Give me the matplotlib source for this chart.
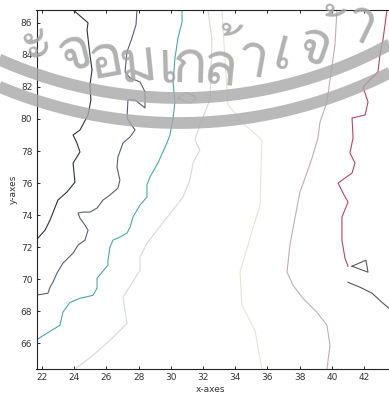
import numpy as np
import matplotlib
matplotlib.use("Agg")
import matplotlib.pyplot as plt
from matplotlib import font_manager
from matplotlib.ft2font import FT2Font

# contour lines traced level by level (x, y in axis units)
level1_x = [23.93, 24.86, 24.80, 24.98, 25.11, 24.98, 25.04, 24.86, 24.36, 23.93, 24.17, 24.36,
            23.93, 24.05, 23.55, 22.99, 22.50, 22.19, 21.60]
level1_y = [86.81, 86.00, 85.56, 84.00, 83.06, 82.13, 81.19, 80.25, 79.31, 79.00, 78.50, 77.94,
            77.25, 76.06, 75.44, 74.94, 73.69, 73.06, 72.40]

level2_x = [27.90, 27.84, 27.59, 27.28, 27.16, 27.47, 28.09, 28.40, 28.40, 27.78, 27.34, 27.28,
            27.78, 27.47, 27.03, 26.72, 26.66, 26.84, 26.72, 26.22, 25.79, 25.42, 24.98, 24.55,
            24.24, 24.36, 24.67, 24.86, 24.67, 24.24, 23.93, 23.30, 22.93, 22.68, 22.50, 22.37, 21.60]
level2_y = [86.81, 85.88, 85.06, 84.19, 82.94, 82.56, 82.31, 81.69, 80.69, 81.19, 81.19, 80.06,
            79.31, 78.88, 78.50, 77.63, 77.00, 76.19, 75.69, 75.25, 74.94, 74.44, 74.19, 74.19,
            74.13, 73.81, 73.38, 73.06, 72.44, 72.13, 71.63, 71.00, 70.38, 69.81, 69.50, 69.13, 69.00]

level3_x = [30.70, 30.70, 30.45, 30.26, 30.14, 30.26, 30.14, 29.95, 29.76, 29.20, 28.71, 28.52,
            28.52, 28.09, 27.65, 27.47, 27.28, 26.84, 26.41, 26.22, 26.10, 26.10, 25.73, 25.42,
            25.42, 25.17, 24.36, 23.74, 23.30, 23.12, 22.31, 21.60]
level3_y = [86.81, 86.06, 85.06, 83.81, 82.31, 81.06, 80.06, 79.00, 78.50, 77.25, 76.38, 75.88,
            75.13, 74.63, 73.88, 73.25, 72.88, 72.63, 72.44, 72.00, 71.19, 70.88, 70.44, 70.06,
            69.44, 69.00, 68.81, 68.56, 67.94, 67.13, 66.63, 66.19]

level4_x = [32.31, 32.56, 32.43, 31.81, 31.50, 31.81, 31.38, 31.19, 30.76, 29.64, 28.52, 28.09,
            28.09, 27.03, 27.28, 26.22, 25.17, 24.05]
level4_y = [86.81, 84.94, 81.19, 79.63, 78.69, 78.06, 77.25, 76.19, 75.13, 73.69, 72.25, 71.38,
            70.56, 68.88, 67.25, 66.19, 65.25, 64.40]
loop4_x = [30.45, 30.95, 31.44, 31.57, 31.25, 30.82, 30.45]
loop4_y = [81.31, 81.63, 81.44, 81.25, 81.00, 81.13, 81.31]

level5_x = [33.18, 33.37, 33.55, 34.61, 35.66, 35.54, 34.92, 34.30, 34.42, 35.23, 35.66]
level5_y = [86.81, 83.69, 80.88, 79.63, 78.69, 74.63, 72.56, 70.44, 68.38, 66.81, 64.40]

level6_x = [40.32, 40.20, 39.89, 39.70, 39.27, 39.14, 38.77, 38.34, 38.02, 37.71, 37.40, 37.22,
            37.59, 38.21, 39.08, 39.70, 39.89, 39.70]
level6_y = [86.81, 84.63, 82.44, 81.06, 79.81, 78.81, 77.56, 76.31, 75.44, 73.81, 72.13, 70.44,
            69.63, 68.81, 67.94, 67.13, 65.88, 64.40]

level7_x = [43.43, 43.18, 42.99, 42.87, 41.94, 42.25, 42.07, 41.26, 41.32, 41.13, 41.44, 41.26,
            40.39, 40.70, 41.01, 40.63, 40.63, 40.82, 41.01]
level7_y = [86.81, 84.94, 84.00, 82.94, 82.00, 81.06, 80.25, 80.06, 78.81, 77.88, 77.25, 76.63,
            76.00, 75.38, 74.81, 73.88, 72.44, 71.31, 70.81]

level8_x = [41.01, 41.76, 42.50, 43.12, 43.55, 44.60]
level8_y = [69.81, 69.50, 69.13, 68.56, 68.19, 67.60]
loop8_x = [41.26, 42.12, 42.25, 41.26]
loop8_y = [70.81, 71.19, 70.44, 70.81]

contours = [
    (level1_x, level1_y, "#2c323c"),
    (level2_x, level2_y, "#566070"),
    (level3_x, level3_y, "#48aaa4"),
    (level4_x, level4_y, "#d2dcd2"),
    (loop4_x, loop4_y, "#b8c4b8"),
    (level5_x, level5_y, "#e6e6d0"),
    (level6_x, level6_y, "#c4acb4"),
    (level7_x, level7_y, "#b84462"),
    (level8_x, level8_y, "#5c5454"),
    (loop8_x, loop8_y, "#605858"),
]

x_ticks = [22, 24, 26, 28, 30, 32, 34, 36, 38, 40, 42]
y_ticks = [66, 68, 70, 72, 74, 76, 78, 80, 82, 84, 86]

# library stamp across the top of the page
stamp_text = ["ะ", "จ", "อ", "ม", "เ", "ก", "ล้", "า", "เ", "จ้", "า"]
stamp_px = [36, 75, 106, 138, 168, 190, 220, 252, 283, 315, 358]

W, H = 389, 398
fig = plt.figure(figsize=(W / 100, H / 100), dpi=100)
fig.patch.set_facecolor("white")

ax = fig.add_axes([36.5 / W, 1 - 369 / H, 369.5 / W, 359 / H])
for xs, ys, c in contours:
    ax.plot(xs, ys, color=c, lw=0.8)

ax.set_xlim(21.66, 44.61)
ax.set_ylim(64.4, 86.8)
ax.set_xticks(x_ticks)
ax.set_yticks(y_ticks)
ax.tick_params(direction="in", length=2.5, width=0.6, top=True, right=True,
               labelsize=6.5, labelcolor="#333333", pad=3)
for side in ["top", "bottom", "left", "right"]:
    ax.spines[side].set_linewidth(0.8)
    ax.spines[side].set_color("#222222")
ax.set_xlabel("x-axes", fontsize=6.5, color="#333333")
ax.set_ylabel("y-axes", fontsize=6.5, color="#333333")
ax.xaxis.set_label_coords(0.47, -0.045)
ax.yaxis.set_label_coords(-0.05, 0.5)


def thai_family():
    for f in font_manager.fontManager.ttflist:
        try:
            if 0x0E08 in FT2Font(f.fname).get_charmap():
                return f.name
        except Exception:
            pass
    return None


# overlay in pixel units for the stamp arcs
ov = fig.add_axes([0, 0, 1, 1], zorder=5)
ov.set_xlim(0, W)
ov.set_ylim(H, 0)
ov.axis("off")
ov.patch.set_alpha(0)

cx, cy = 179.3, -342.0
t = np.linspace(np.radians(20), np.radians(160), 400)
for r in (440, 465):
    ov.plot(cx + r * np.cos(t), cy + r * np.sin(t), color="#a8a8a8", lw=8.5, alpha=0.8,
            solid_capstyle="butt")

fam = thai_family()
if fam:
    rt = 410
    for s, px in zip(stamp_text, stamp_px):
        dx = px - cx
        py = cy + np.sqrt(rt ** 2 - dx ** 2)
        ang = -np.degrees(np.arcsin(dx / rt))
        ov.text(px, py, s, fontsize=42, family=fam, color="#a4a4a4", alpha=0.85,
                ha="center", va="center", rotation=ang, rotation_mode="anchor")

fig.savefig("out.png", dpi=100)
